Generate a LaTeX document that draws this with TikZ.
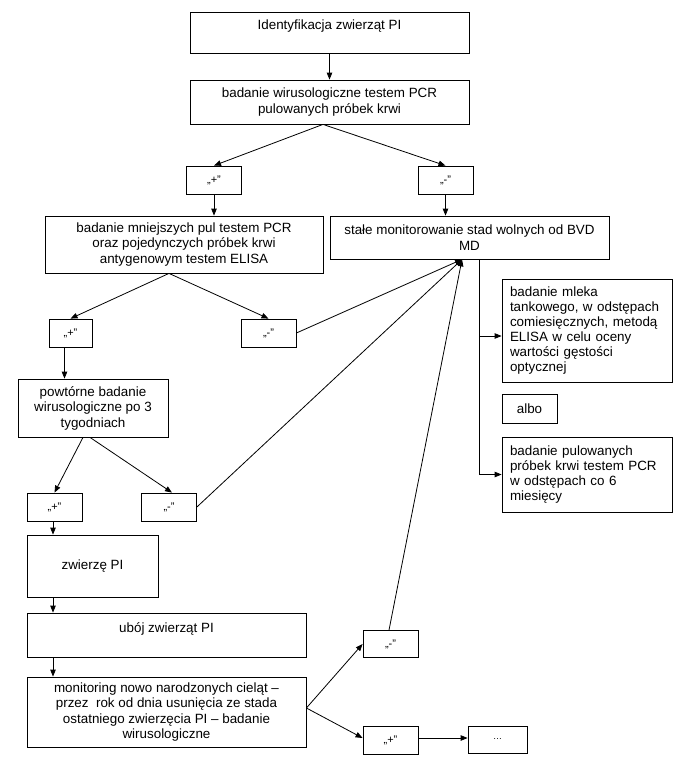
\documentclass[tikz,border=0pt]{standalone}
\usepackage{fontspec}
\setmainfont{Liberation Sans}
\usetikzlibrary{arrows.meta}
\begin{document}
\begin{tikzpicture}[x=1pt,y=-1pt,
  >={Triangle[length=7pt,width=5.5pt]},
  line width=0.8pt,
  box/.style={draw, align=center, inner sep=2pt, font=\fontsize{13.4}{15.5}\selectfont},
  sign/.style={draw, minimum width=55pt, minimum height=28pt, inner sep=0pt, font=\fontsize{11}{13}\selectfont},
  side/.style={draw, align=left, text width=154pt, inner xsep=8pt, inner ysep=2pt, font=\fontsize{13.4}{15}\selectfont}]

\useasboundingbox (0,0) rectangle (685,763);

% Main column
\node[box, minimum width=279pt, minimum height=41pt] (ident) at (329.5,32.5) {Identyfikacja zwierząt PI\\~};
\node[box, minimum width=279pt, minimum height=44pt] (wir) at (329.5,102) {badanie wirusologiczne testem PCR\\pulowanych próbek krwi};

% First result
\node[sign] (plusA) at (214,180) {„+”};
\node[sign] (minusA) at (445.5,180) {„-”};

\node[box, minimum width=278pt, minimum height=57pt] (mniej) at (184,244.5) {badanie mniejszych pul testem PCR\\oraz pojedynczych próbek krwi\\antygenowym testem ELISA};
\node[box, minimum width=279pt, minimum height=43pt] (stale) at (469.5,237.5) {stałe monitorowanie stad wolnych od BVD\\MD};

% Second result
\node[sign, minimum width=43pt] (plusB) at (70.5,333) {„+”};
\node[sign] (minusB) at (268.5,333) {„-”};

\node[box, minimum width=150pt, minimum height=58pt] (powt) at (93,408) {powtórne badanie\\wirusologiczne po 3\\tygodniach};

% Third result
\node[sign] (plusC) at (54.5,507) {„+”};
\node[sign] (minusC) at (169,507) {„-”};

\node[box, minimum width=131pt, minimum height=62pt] (zwierze) at (92.5,566) {zwierzę PI};
\node[box, minimum width=279pt, minimum height=44pt] (uboj) at (166.5,635) {ubój zwierząt PI\\~};
\node[box, minimum width=279pt, minimum height=70pt] (monit) at (166.5,712) {monitoring nowo narodzonych cieląt –\\przez\ \ rok od dnia usunięcia ze stada\\ostatniego zwierzęcia PI – badanie\\wirusologiczne};

% Monitoring result
\node[sign, minimum height=27pt] (minusD) at (390.5,644) {„-”};
\node[sign] (plusD) at (390.5,740) {„+”};
\node[sign, minimum width=59pt, minimum height=27pt, font=\fontsize{9}{11}\selectfont] (dots) at (497.5,739.5) {…};

% Monitoring methods
\node[side, minimum height=103pt] (mleko) at (587,330.5) {badanie mleka\\tankowego, w odstępach\\comiesięcznych, metodą\\ELISA w celu oceny\\wartości gęstości\\optycznej};
\node[box, minimum width=55pt, minimum height=29pt] (albo) at (529.5,408.5) {albo};
\node[side, minimum height=75pt] (pulow) at (587,474.5) {badanie pulowanych\\próbek krwi testem PCR\\w odstępach co 6\\miesięcy};

% Arrows down the main column
\draw[->] (ident) -- (wir);
\draw[->] ([xshift=-6.5pt]wir.south) -- (plusA.north);
\draw[->] ([xshift=-6.5pt]wir.south) -- (minusA.north);
\draw[->] (plusA.south) -- (plusA.south |- mniej.north);
\draw[->] (minusA.south) -- (minusA.south |- stale.north);
\draw[->] ([xshift=-15pt]mniej.south) -- (plusB.north);
\draw[->] ([xshift=-15pt]mniej.south) -- (minusB.north);
\draw[->] ([xshift=-6pt]plusB.south) -- ([xshift=-6pt]plusB.south |- powt.north);
\draw[->] ([xshift=-10pt]powt.south) -- (plusC.north);
\draw[->] ([xshift=-3pt]powt.south) -- ([xshift=3pt]minusC.north);
\draw[->] ([xshift=-1.5pt]plusC.south) -- ([xshift=-1.5pt]plusC.south |- zwierze.north);
\draw[->] ([xshift=-1.5pt]plusC.south |- zwierze.south) -- ([xshift=-1.5pt]plusC.south |- uboj.north);
\draw[->] ([xshift=-1.5pt]plusC.south |- uboj.south) -- ([xshift=-1.5pt]plusC.south |- monit.north);

% Negative results back to monitoring
\coordinate (hub) at ([xshift=-7.5pt]stale.south);
\draw[->] (minusB.east) -- (hub);
\draw[->] (minusC.east) -- (hub);
\draw[->] ([xshift=-1.5pt]minusD.north) -- (hub);

% Monitoring of newborn calves
\draw[->] ([yshift=4pt]monit.east) -- (minusD.west);
\draw[->] ([yshift=4pt]monit.east) -- ([yshift=2pt]plusD.west);
\draw[->] ([yshift=2pt]plusD.east) -- ([yshift=2pt]plusD.east -| dots.west);

% Methods of monitoring
\coordinate (fork) at ([xshift=9.5pt]stale.south);
\draw[->] (fork) -- (fork |- pulow.west) -- (pulow.west);
\draw[->] ([yshift=-5.5pt]mleko.west -| fork) -- ([yshift=-5.5pt]mleko.west);

\end{tikzpicture}
\end{document}
